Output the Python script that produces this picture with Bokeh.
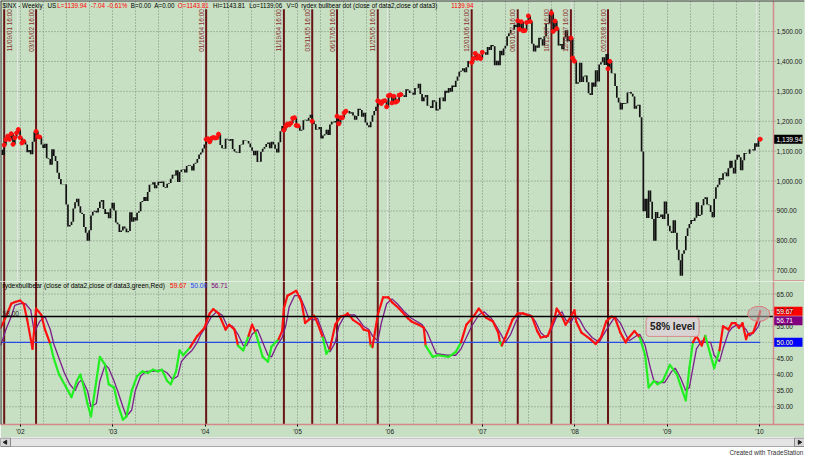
import math
import pandas as pd
from bokeh.plotting import figure
from bokeh.models import Range1d, FixedTicker, NumeralTickFormatter, Grid, Label, Span
from bokeh.layouts import column
from bokeh.embed import file_html
from bokeh.resources import INLINE

# ---------------- data ----------------
first_week = "2001-10-26"
close_2001 = [1104.6, 1087.2, 1120.3, 1138.7, 1150.3, 1139.5, 1158.3, 1123.1, 1144.9, 1161.0]
close_2002 = [1172.5, 1145.6, 1127.6, 1133.3, 1122.2, 1096.2, 1104.2, 1089.8, 1131.8, 1164.3,
              1166.2, 1148.7, 1147.4, 1122.7, 1111.0, 1125.2, 1076.3, 1073.4, 1054.9, 1106.6,
              1083.8, 1067.1, 1027.5, 1007.3, 989.1, 989.8, 989.0, 921.4, 847.8, 852.8,
              864.2, 908.6, 928.8, 940.9, 916.1, 893.9, 889.8, 846.0, 827.4, 800.6,
              835.3, 884.4, 897.7, 900.9, 894.7, 909.8, 930.6, 936.3, 906.6, 889.5,
              895.8, 875.4]
close_2003 = [908.6, 927.6, 901.8, 861.4, 855.7, 829.7, 834.9, 848.2, 841.2, 828.9,
              833.3, 895.8, 863.5, 878.9, 868.3, 893.6, 898.8, 930.1, 933.4, 946.7,
              933.2, 963.6, 987.8, 988.6, 995.7, 976.2, 985.7, 998.1, 993.3, 998.7,
              980.2, 977.6, 990.7, 993.1, 1008.0, 1021.4, 1018.6, 1036.3, 996.9, 1029.9,
              1038.1, 1039.3, 1028.9, 1050.7, 1053.2, 1050.4, 1035.3, 1058.2, 1061.5, 1074.1,
              1088.7, 1095.9]
close_2004 = [1108.5, 1121.9, 1139.8, 1141.6, 1131.1, 1142.8, 1145.8, 1144.1, 1144.9, 1156.9,
              1120.6, 1109.8, 1108.1, 1141.8, 1139.3, 1134.6, 1140.6, 1107.3, 1098.7, 1095.7,
              1093.6, 1120.7, 1122.5, 1136.5, 1135.0, 1134.4, 1125.4, 1112.8, 1101.4, 1086.2,
              1101.7, 1064.0, 1064.8, 1098.4, 1107.8, 1113.6, 1123.9, 1128.6, 1110.1, 1131.5,
              1122.1, 1108.2, 1095.7, 1130.2, 1166.2, 1184.2, 1170.3, 1182.7, 1191.2, 1188.0,
              1194.2, 1210.1, 1211.9]
close_2005 = [1186.2, 1184.5, 1167.9, 1171.4, 1203.0, 1205.3, 1201.6, 1211.4, 1222.1, 1200.1,
              1190.2, 1171.4, 1172.9, 1181.2, 1142.6, 1152.1, 1156.9, 1171.4, 1154.1, 1189.3,
              1198.8, 1196.0, 1200.9, 1217.0, 1191.6, 1211.9, 1211.9, 1227.9, 1233.7, 1234.2,
              1226.4, 1230.4, 1219.7, 1205.1, 1218.0, 1241.5, 1237.9, 1215.3, 1228.8, 1195.9,
              1186.6, 1179.6, 1198.4, 1220.1, 1234.7, 1248.3, 1268.3, 1265.1, 1259.4, 1267.3,
              1268.7, 1248.3]
close_2006 = [1285.5, 1287.6, 1261.5, 1283.7, 1264.0, 1267.0, 1287.2, 1289.4, 1287.2, 1281.4,
              1307.3, 1303.0, 1294.8, 1295.5, 1289.1, 1311.3, 1310.6, 1325.8, 1291.2, 1267.0,
              1280.2, 1288.2, 1252.3, 1251.5, 1244.5, 1270.2, 1265.5, 1236.2, 1240.3, 1278.6,
              1279.4, 1266.7, 1302.3, 1295.1, 1311.0, 1299.0, 1319.7, 1314.8, 1335.8, 1349.6,
              1365.6, 1368.6, 1377.3, 1364.3, 1380.9, 1401.2, 1401.0, 1396.7, 1409.8, 1427.1,
              1410.8, 1418.3]
close_2007 = [1409.7, 1430.7, 1430.5, 1422.2, 1448.4, 1438.1, 1455.5, 1451.2, 1387.2, 1402.8,
              1387.0, 1436.1, 1420.9, 1443.8, 1452.9, 1484.4, 1494.1, 1505.6, 1505.9, 1522.8,
              1515.7, 1536.3, 1507.7, 1532.9, 1502.6, 1503.4, 1530.4, 1552.5, 1534.1, 1459.0,
              1433.1, 1453.6, 1445.9, 1479.4, 1474.0, 1453.6, 1484.3, 1525.8, 1526.8, 1557.6,
              1561.8, 1500.6, 1535.3, 1509.7, 1453.7, 1458.7, 1440.7, 1481.1, 1504.7, 1468.0,
              1484.5, 1478.5]
close_2008 = [1411.6, 1401.0, 1325.2, 1330.6, 1395.4, 1331.3, 1350.0, 1353.1, 1330.6, 1293.4,
              1288.1, 1329.5, 1315.2, 1370.4, 1332.8, 1390.3, 1397.8, 1413.9, 1388.3, 1425.4,
              1375.9, 1400.4, 1360.7, 1360.0, 1317.9, 1278.4, 1262.9, 1239.5, 1260.7, 1257.8,
              1260.3, 1296.3, 1298.2, 1292.2, 1282.8, 1242.3, 1251.7, 1255.1, 1213.3, 1099.2,
              899.2, 940.6, 876.8, 968.8, 931.0, 873.3, 800.0, 896.2, 876.1, 879.7,
              887.9, 872.8]
close_2009 = [931.8, 890.4, 850.1, 832.0, 825.9, 868.6, 826.8, 770.1, 735.1, 683.4,
              756.6, 768.5, 815.9, 842.5, 856.6, 869.6, 866.2, 877.5, 929.2, 882.9,
              887.0, 919.1, 940.1, 946.2, 921.2, 918.9, 896.4, 879.1, 940.4, 979.3,
              987.5, 1010.5, 1004.1, 1026.1, 1028.9, 1016.4, 1042.7, 1068.3, 1044.4, 1025.2,
              1071.5, 1087.7, 1079.6, 1036.2, 1069.3, 1093.5, 1091.4, 1091.5, 1106.0, 1106.4,
              1102.5, 1126.5, 1115.1]
close_2010 = [1145.0, 1139.94]

# rydex bull/bear indicator (bar index, value)
ind_bar = [0, 3, 6, 8, 11, 13, 15, 18, 20, 23, 25, 28, 30, 33, 37, 40, 43, 45, 47, 49,
           51, 54, 56, 59, 61, 64, 66, 69, 71, 74, 77, 80, 83, 86, 89, 91, 94, 96, 99, 101,
           103, 107, 111, 115, 118, 120, 123, 127, 129, 132, 134, 137, 140, 142, 144, 148, 151, 153, 157, 159,
           160, 162, 167, 170, 172, 174, 177, 179, 182, 184, 186, 189, 192, 195, 196, 199, 203, 205, 208, 209,
           210, 213, 216, 219, 221, 225, 230, 232, 236, 239, 240, 244, 247, 253, 257, 260, 263, 267, 270, 274,
           278, 281, 282, 283, 285, 289, 292, 295, 300, 303, 305, 309, 313, 314, 317, 319, 322, 324, 325, 328,
           333, 336, 339, 342, 345, 347, 350, 353, 354, 358, 361, 364, 366, 369, 371, 374, 378, 382, 385, 387,
           389, 391, 393, 396, 398, 401, 403, 406, 408, 411, 413, 415, 417, 419, 421, 422, 425, 428, 429]
ind_value = [54.5, 58, 62, 62.5, 63, 62, 57, 48, 60.5, 58.5, 54, 49.5, 45, 40, 36, 33, 38, 40, 36, 31,
             27, 38, 45.5, 43, 37, 36, 31, 26, 27, 35, 39.5, 41, 40.5, 41.5, 41, 41.5, 38, 37, 41, 47.5,
             46, 48.5, 52, 54.5, 59, 60.3, 59, 54, 55.5, 54, 49, 47.5, 52, 55.5, 53, 45.5, 44, 48.7, 51, 53.5,
             60.5, 64.5, 66, 62.5, 56, 57, 58.3, 56, 51.5, 46.5, 48, 55.5, 58, 58.5, 59, 57, 55.5, 54, 53.5, 49,
             48.5, 58.5, 64, 64, 62.5, 60.5, 57.5, 56.5, 55.5, 54.5, 49, 45.5, 46, 45.5, 47, 50, 55.5, 58, 60.5, 57.7,
             56.5, 53, 50, 49, 51.5, 57, 59, 59, 58, 53.5, 51.5, 52, 58, 60.5, 58, 55.5, 58, 60, 56.5, 53,
             51, 49.5, 51.5, 56.5, 58, 57.5, 53, 50, 51, 53.5, 51.5, 46, 36, 38, 37, 38, 43, 40, 35, 32,
             42, 50, 52, 49, 52, 46, 42, 47.5, 55, 54, 56, 56, 54.5, 56, 51, 52.5, 53, 57.5, 59.67]
# its average (purple)
avg_bar = [0, 3, 6, 8, 11, 14, 17, 19, 22, 25, 28, 30, 33, 36, 39, 42, 44, 46, 49, 51,
           54, 56, 59, 61, 64, 66, 69, 71, 74, 76, 79, 82, 86, 91, 94, 97, 100, 102, 105, 108,
           111, 113, 116, 119, 122, 125, 128, 131, 134, 137, 139, 142, 145, 148, 151, 153, 156, 159, 161, 163,
           166, 169, 172, 174, 177, 179, 181, 184, 186, 189, 191, 194, 197, 200, 203, 205, 208, 210, 213, 215,
           218, 221, 224, 228, 232, 238, 241, 244, 246, 252, 257, 260, 263, 266, 270, 273, 277, 280, 283, 285,
           288, 291, 294, 299, 302, 305, 308, 311, 314, 317, 319, 322, 324, 327, 330, 334, 338, 340, 344, 347,
           350, 353, 355, 359, 361, 364, 367, 369, 372, 375, 379, 381, 384, 387, 389, 391, 393, 396, 398, 401,
           403, 406, 408, 411, 413, 416, 419, 421, 423, 426, 428, 429]
avg_value = [49, 54, 58, 61.5, 62, 62, 60, 53, 56.5, 58, 54, 49.5, 45, 40.5, 37, 35, 37.5, 38.5, 35, 30,
             31, 38, 43, 42, 38, 35, 30, 27, 29, 35, 39.5, 41, 41, 41.5, 40.5, 38.5, 39.5, 44, 46, 47.5,
             50, 52.5, 55, 58, 59.5, 58.5, 55, 55, 52.5, 49, 49, 52.5, 54, 50, 46, 45.5, 49, 51.5, 55, 61,
             64.5, 64.5, 60.5, 57.5, 57, 57.5, 54.5, 50, 47, 50, 55, 58, 58.5, 58.5, 56.5, 55, 54, 52, 50.5, 56,
             62, 63.5, 62, 59.5, 57.5, 55.5, 53, 49, 46.5, 46, 46, 48, 51.5, 55, 58.5, 59.5, 57.5, 55, 52, 50,
             52.5, 56.5, 59, 58.5, 56.5, 53, 51.5, 54, 58, 59.5, 57, 56, 58.5, 57, 54, 51.5, 50, 52, 55.5, 58,
             56, 52.5, 50.5, 52, 52.5, 49, 42, 38, 37.5, 37.5, 41, 42, 39, 35, 36, 42, 48, 50.5, 50, 50,
             46, 44, 48, 53, 54.5, 55.5, 55, 54, 52, 53.5, 55, 56.71]
lower_level = 50.0
upper_level = 58.0
signal_periods = [("2001-11-09", "2002-01-25"), ("2002-03-15", "2002-03-29"), ("2004-01-16", "2004-03-05"),
                  ("2004-11-19", "2005-01-14"), ("2005-03-11", "2005-03-11"), ("2005-06-17", "2005-07-22"),
                  ("2005-11-25", "2006-02-24"), ("2006-12-01", "2007-01-12"), ("2007-06-01", "2007-07-20"),
                  ("2007-10-12", "2007-11-02"), ("2007-12-28", "2008-01-11"), ("2008-05-23", "2008-05-30"),
                  ("2010-01-15", "2010-01-15")]
price_ticks = [700, 800, 900, 1000, 1100, 1200, 1300, 1400, 1500]
ind_ticks = [30, 35, 40, 45, 50, 55, 60, 65]
year_labels = ["'02", "'03", "'04", "'05", "'06", "'07", "'08", "'09", "'10"]
title_parts = [("$INX - Weekly", 2, "black"), ("US", 48, "black"), ("L=1139.94", 58, "red"),
               ("-7.04", 92, "red"), ("-0.61%", 109, "red"), ("B=0.00", 133, "black"),
               ("A=0.00", 157, "black"), ("O=1143.81", 181, "red"), ("Hi=1143.81", 217, "black"),
               ("Lo=1139.06", 254, "black"), ("V=0", 292, "black"),
               ("rydex bullbear dot (close of data2,close of data3)", 307, "black"), ("1139.94", 460, "red")]
sub_parts = [("rydexbullbear (close of data2,close of data3,green,Red)", 2, "black"),
             ("59.67", 173, "red"), ("50.00", 194, "#2040ff"), ("56.71", 215, "#800080")]

# ---------------- helpers ----------------
def dyear(ts):
    ts = pd.Timestamp(ts)
    y0 = pd.Timestamp(ts.year, 1, 1)
    y1 = pd.Timestamp(ts.year + 1, 1, 1)
    return ts.year + (ts - y0) / (y1 - y0)

weekly_close = close_2001 + close_2002 + close_2003 + close_2004 + close_2005 + close_2006 + close_2007 + close_2008 + close_2009 + close_2010
week_dates = pd.date_range(first_week, periods=len(weekly_close), freq="W-FRI")
week_t = [dyear(d) for d in week_dates]

FW = 804          # frame width (plot area + price-scale strip)
DW = 773          # data area width
H1, H2 = 281, 143
T0, T1 = 2001.815, 2010.182
XE = T0 + (T1 - T0) * FW / DW
DX = (XE - T0) / FW
P_LO, P_HI = 664.0, 1604.0
I_LO, I_HI = 24.5, 68.9
DY1 = (P_HI - P_LO) / H1
DY2 = (I_HI - I_LO) / H2
REF_W = 789.0
def tx(px):
    return T0 + px / REF_W * (T1 - T0)
def py1(y):
    return P_HI - (y - 1) / 290.0 * (P_HI - P_LO)
def py2(y):
    return I_HI - (y - 292) / 148.0 * (I_HI - I_LO)

BG = "#c7dfc3"
GRID = "#7d8d7d"
FONT = "Liberation Sans"
FS = "6.6px"
VLINE = "#6a1515"
PINK = "#d48a8a"

xr = Range1d(T0, XE)
year_ticks = [y + 0.03 for y in range(2002, 2011)]
quarter_ticks = [y + q * 0.25 + 0.03 for y in range(2002, 2010) for q in range(4)] + [2010.03]


def style_scale(ax, ticks, fmt):
    ax.ticker = FixedTicker(ticks=ticks)
    ax.formatter = NumeralTickFormatter(format=fmt)
    ax.major_label_text_font_size = FS
    ax.major_label_text_font = FONT
    ax.major_label_text_color = "#1a1a1a"
    ax.major_tick_out = 0
    ax.major_tick_in = 0
    ax.major_tick_line_color = None
    ax.minor_tick_line_color = None
    ax.axis_line_color = None
    ax.major_label_standoff = -28


def value_box(p, y, dy, txt, col):
    p.quad(left=[T1 + 0.5 * DX], right=[T1 + 29 * DX], bottom=[y - 4.5 * dy], top=[y + 4.5 * dy],
           fill_color=col, line_color=None)
    p.add_layout(Label(x=T1, y=y, text=txt, x_offset=3, text_baseline="middle",
                       text_font=FONT, text_font_size=FS, text_color="white"))


# ---------------- upper pane ----------------
p1 = figure(frame_width=FW, frame_height=H1, x_range=xr, y_range=Range1d(P_LO, P_HI),
            output_backend="svg", toolbar_location=None, x_axis_location=None,
            y_axis_location="right", min_border_left=0, min_border_right=0,
            min_border_top=0, min_border_bottom=0, background_fill_color=BG,
            border_fill_color=BG, outline_line_color=None)
style_scale(p1.yaxis[0], price_ticks, "0,0.00")
p1.ygrid.visible = False
p1.segment(x0=[T0] * len(price_ticks), y0=price_ticks, x1=[T1 + 3 * DX] * len(price_ticks),
           y1=price_ticks, line_color=GRID, line_dash="1 2", line_width=1)
p1.add_layout(Grid(dimension=0, ticker=FixedTicker(ticks=quarter_ticks),
                   grid_line_color=GRID, grid_line_dash="1 2"))

line_starts = [dyear(s) for s, e in signal_periods[:-1]]
line_texts = [pd.Timestamp(s).strftime("%m/%d/%y") + " 16:00" for s, e in signal_periods[:-1]]
top_line = py1(10)
p1.segment(x0=line_starts, y0=[top_line] * len(line_starts), x1=line_starts,
           y1=[P_LO] * len(line_starts), line_color=VLINE, line_width=2)
for i, (t, txt) in enumerate(zip(line_starts, line_texts)):
    first = i == 0
    p1.add_layout(Label(x=t, y=top_line, text=txt, angle=math.pi / 2, text_align="right",
                        text_baseline="top" if first else "bottom",
                        x_offset=1.5 if first else -1.5, text_font=FONT,
                        text_font_size="6.4px", text_color="#8a3030"))

prev = [weekly_close[0]] + weekly_close[:-1]
lo = [min(a, b) for a, b in zip(prev, weekly_close)]
hi = [max(a, b) for a, b in zip(prev, weekly_close)]
p1.segment(x0=week_t, y0=lo, x1=week_t, y1=hi, line_color="#111111", line_width=1.7)

dot_t, dot_v = [], []
for s, e in signal_periods:
    for d, t, c in zip(week_dates, week_t, weekly_close):
        if pd.Timestamp(s) <= d <= pd.Timestamp(e):
            dot_t.append(t)
            dot_v.append(c)
p1.scatter(dot_t, dot_v, marker="circle", size=4, color="#ff1010")

for txt, px, col in title_parts:
    p1.add_layout(Label(x=tx(px), y=py1(6), text=txt, text_baseline="middle",
                        text_font=FONT, text_font_size="6.3px", text_color=col))
p1.add_layout(Span(location=T1, dimension="height", line_color=PINK, line_width=1.5))
p1.add_layout(Span(location=T0, dimension="height", line_color="#3c3c3c", line_width=2))
p1.add_layout(Span(location=P_HI, dimension="width", line_color="#3c3c3c", line_width=2))
p1.segment(x0=[T1], y0=[P_LO + 0.5 * DY1], x1=[XE], y1=[P_LO + 0.5 * DY1], line_color=PINK,
           line_width=1.5)
value_box(p1, weekly_close[-1], DY1, "1,139.94", "black")

# ---------------- lower pane ----------------
p2 = figure(frame_width=FW, frame_height=H2, x_range=xr, y_range=Range1d(I_LO, I_HI),
            output_backend="svg", toolbar_location=None, y_axis_location="right",
            min_border_left=0, min_border_right=0, min_border_top=0, min_border_bottom=12,
            background_fill_color=BG, border_fill_color=BG, outline_line_color=None)
style_scale(p2.yaxis[0], ind_ticks, "0.00")
axx = p2.xaxis[0]
axx.ticker = FixedTicker(ticks=year_ticks)
axx.major_label_overrides = {t: lab for t, lab in zip(year_ticks, year_labels)}
axx.major_label_text_font_size = FS
axx.major_label_text_font = FONT
axx.major_label_text_color = "#202020"
axx.major_tick_out = 2
axx.major_tick_in = 0
axx.minor_tick_line_color = None
axx.axis_line_color = PINK
axx.axis_line_width = 1.5
axx.major_label_standoff = 1
p2.ygrid.visible = False
p2.segment(x0=[T0] * len(ind_ticks), y0=ind_ticks, x1=[T1 + 3 * DX] * len(ind_ticks),
           y1=ind_ticks, line_color=GRID, line_dash="1 2", line_width=1)
p2.xgrid.ticker = FixedTicker(ticks=quarter_ticks)
p2.xgrid.grid_line_color = GRID
p2.xgrid.grid_line_dash = "1 2"

p2.segment(x0=line_starts, y0=[I_LO] * len(line_starts), x1=line_starts,
           y1=[I_HI] * len(line_starts), line_color=VLINE, line_width=2)
p2.segment(x0=[week_t[0]], y0=[lower_level], x1=[week_t[-1]], y1=[lower_level],
           line_color="#2a4ae8", line_width=1.2)
avg_t = [week_t[b] for b in avg_bar]
p2.line(avg_t, avg_value, line_color="#7a1f8a", line_width=1.3)
ind_t = [week_t[b] for b in ind_bar]
seg_col = ["#22ee22" if (a + b) / 2 < lower_level else "#ff1010"
           for a, b in zip(ind_value[:-1], ind_value[1:])]
p2.segment(x0=ind_t[:-1], y0=ind_value[:-1], x1=ind_t[1:], y1=ind_value[1:],
           line_color=seg_col, line_width=2.2, line_cap="round")
p2.segment(x0=[T0], y0=[upper_level], x1=[T1], y1=[upper_level], line_color="black", line_width=1.5)
p2.add_layout(Span(location=T1, dimension="height", line_color=PINK, line_width=1.5))
p2.add_layout(Span(location=T0, dimension="height", line_color="#3c3c3c", line_width=2))

for txt, px, col in sub_parts:
    p2.add_layout(Label(x=tx(px), y=py2(296), text=txt, text_baseline="middle",
                        text_font=FONT, text_font_size=FS, text_color=col))
p2.add_layout(Label(x=tx(2), y=upper_level, text="58.00", y_offset=1, text_baseline="bottom",
                    text_font=FONT, text_font_size=FS, text_color="#202020"))
value_box(p2, ind_value[-1], DY2, "59.67", "#ff0000")
value_box(p2, avg_value[-1], DY2, "56.71", "#800080")
value_box(p2, lower_level, DY2, "50.00", "#0000ff")

p2.ellipse(x=[tx(774)], y=[py2(325.5)], width=[22], height=[15], width_units="screen",
           height_units="screen", fill_color="#b4acac", fill_alpha=0.6, line_color="#e07878",
           line_width=1)
p2.add_layout(Label(x=tx(686), y=py2(339), text="58% level", text_align="center",
                    text_baseline="middle", text_font=FONT, text_font_size="10px",
                    text_font_style="bold", text_color="#202020",
                    background_fill_color="#d9d4d4", border_line_color="#d88a8a",
                    border_line_width=1, padding=4, border_radius=3))

# ---------------- scroll bar and footer ----------------
p3 = figure(frame_width=FW, frame_height=19, x_range=Range1d(0, FW), y_range=Range1d(0, 19),
            output_backend="svg", toolbar_location=None, x_axis_location=None,
            y_axis_location=None, min_border=0, background_fill_color="white",
            border_fill_color="white", outline_line_color=None)
p3.xgrid.visible = False
p3.ygrid.visible = False
p3.quad(left=[0], right=[FW], bottom=[10], top=[18.5], fill_color="#e4e4e4", line_color="#a8a8a8")
p3.quad(left=[0, FW - 10], right=[10, FW], bottom=[10, 10], top=[18.5, 18.5],
        fill_color="#d6d6d6", line_color="#8a8a8a")
p3.scatter(x=[5, FW - 5], y=[14.2, 14.2], marker="triangle", angle=[math.pi / 2, -math.pi / 2],
           size=4, color="#202020")
p3.add_layout(Label(x=FW - 1, y=1, text="Created with TradeStation", text_align="right",
                    text_baseline="bottom", text_font=FONT, text_font_size="6.4px",
                    text_color="#303030"))

layout = column(p1, p2, p3, spacing=0)
open("out.html", "w").write(file_html(layout, INLINE))
